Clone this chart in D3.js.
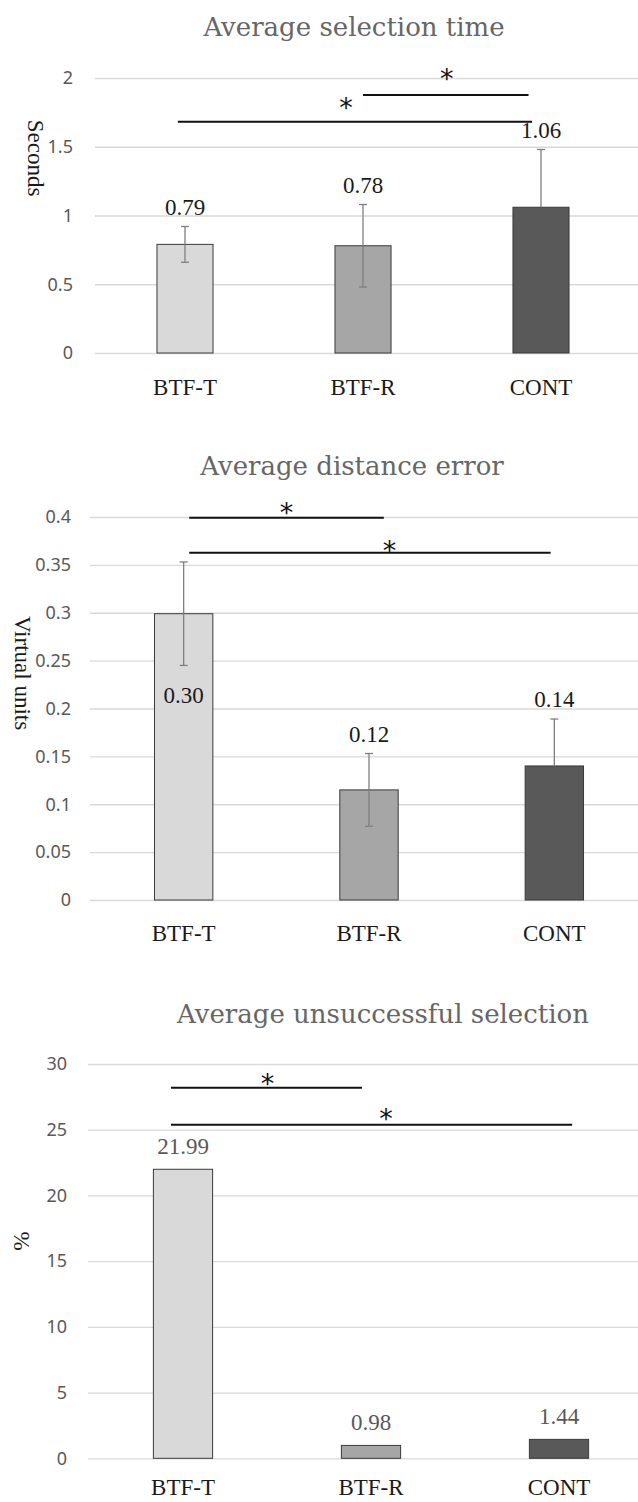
<!DOCTYPE html>
<html>
<head>
<meta charset="utf-8">
<script src="https://cdn.jsdelivr.net/npm/d3@7"></script>
<style>
  body { margin: 0; background: #fff; }
  svg { display: block; }
</style>
</head>
<body>
<div id="chart"></div>
<script>
(function() {

  const categories = ['BTF-T', 'BTF-R', 'CONT'];

  // Average selection time (seconds)
  const timeMeans = [0.79, 0.78, 1.06];
  const timeErrUp = [0.13, 0.30, 0.42];
  const timeErrDown = [0.13, 0.30, 0];
  const timeLabels = ['0.79', '0.78', '1.06'];
  const timeTicks = [0, 0.5, 1, 1.5, 2];
  // significance bars: [from index, to index, value]
  const timeSig = [[1.0, 1.93, 1.876], [-0.04, 1.95, 1.682]];
  const timeStars = [[1.47, 2.036], [0.905, 1.825]];

  // Average distance error (virtual units)
  const distMeans = [0.299, 0.115, 0.14];
  const distErrUp = [0.054, 0.038, 0.049];
  const distErrDown = [0.054, 0.038, 0];
  const distLabels = ['0.30', '0.12', '0.14'];
  const distInside = [true, false, false];
  const distTicks = [0, 0.05, 0.1, 0.15, 0.2, 0.25, 0.3, 0.35, 0.4];
  const distSig = [[0.03, 1.08, 0.3993], [0.03, 1.98, 0.3627]];
  const distStars = [[0.555, 0.4104], [1.11, 0.371]];

  // Average unsuccessful selection (%)
  const failMeans = [21.99, 0.98, 1.44];
  const failLabels = ['21.99', '0.98', '1.44'];
  const failTicks = [0, 5, 10, 15, 20, 25, 30];
  const failSig = [[-0.064, 0.952, 28.2], [-0.064, 2.07, 25.37]];
  const failStars = [[0.45, 28.94], [1.08, 26.28]];

  const barFills = ['#d9d9d9', '#a6a6a6', '#595959'];
  const width = 638, height = 1502;

  const svg = d3.select('#chart').append('svg')
    .attr('width', width)
    .attr('height', height);

  const panels = [
    {
      title: 'Average selection time', titleX: 354, titleY: 36,
      yLabel: 'Seconds', yLabelX: 36, yLabelY: 158,
      y0: 353, y1: 78, domain: [0, 2], ticks: timeTicks, tickX: 73, gridX: 95,
      x0: 96, x1: 630, catY: 395,
      means: timeMeans, errUp: timeErrUp, errDown: timeErrDown, labels: timeLabels,
      inside: [false, false, false], labelColor: '#1a1a1a', sig: timeSig, stars: timeStars
    },
    {
      title: 'Average distance error', titleX: 352, titleY: 475,
      yLabel: 'Virtual units', yLabelX: 23, yLabelY: 673,
      y0: 900, y1: 517, domain: [0, 0.4], ticks: distTicks, tickX: 71, gridX: 90,
      x0: 91, x1: 647, catY: 941,
      means: distMeans, errUp: distErrUp, errDown: distErrDown, labels: distLabels,
      inside: distInside, labelColor: '#1a1a1a', sig: distSig, stars: distStars
    },
    {
      title: 'Average unsuccessful selection', titleX: 383, titleY: 1023,
      yLabel: '%', yLabelX: 22, yLabelY: 1241,
      y0: 1458.3, y1: 1064, domain: [0, 30], ticks: failTicks, tickX: 67, gridX: 88,
      x0: 89, x1: 653, catY: 1495,
      means: failMeans, errUp: null, errDown: null, labels: failLabels,
      inside: [false, false, false], labelColor: '#595959', sig: failSig, stars: failStars
    }
  ];

  panels.forEach(p => {
    const g = svg.append('g');

    const y = d3.scaleLinear().domain(p.domain).range([p.y0, p.y1]);
    const x = d3.scaleBand().domain(categories).range([p.x0, p.x1])
      .paddingInner(0.685).paddingOuter(0.3425);
    const center = c => x(c) + x.bandwidth() / 2;
    // fractional category index -> pixel, for the significance markers
    const xi = d3.scaleLinear().domain([0, 1]).range([center(categories[0]), center(categories[1])]);

    // title
    g.append('text')
      .attr('x', p.titleX)
      .attr('y', p.titleY)
      .attr('text-anchor', 'middle')
      .attr('font-family', 'DejaVu Serif')
      .attr('font-size', 26)
      .attr('fill', '#666')
      .text(p.title);

    // y axis label
    g.append('text')
      .attr('transform', `translate(${p.yLabelX}, ${p.yLabelY}) rotate(90)`)
      .attr('text-anchor', 'middle')
      .attr('dy', '0.35em')
      .attr('font-family', 'Liberation Serif')
      .attr('font-size', 23)
      .attr('fill', '#1a1a1a')
      .text(p.yLabel);

    // gridlines + tick labels
    const yAxis = g.append('g')
      .attr('transform', `translate(${p.gridX}, 0)`)
      .call(d3.axisLeft(y).tickValues(p.ticks).tickSize(-(width - p.gridX)).tickPadding(p.gridX - p.tickX)
        .tickFormat(d3.format('')));
    yAxis.select('.domain').remove();
    yAxis.selectAll('.tick line').attr('stroke', '#d9d9d9').attr('stroke-width', 1.3);
    yAxis.selectAll('.tick text')
      .attr('font-family', 'Noto Sans')
      .attr('font-size', 18)
      .attr('fill', '#595959');

    // bars
    g.selectAll('.bar')
      .data(categories)
      .enter().append('rect')
        .attr('class', 'bar')
        .attr('x', d => x(d))
        .attr('y', (d, i) => y(p.means[i]))
        .attr('width', x.bandwidth())
        .attr('height', (d, i) => p.y0 - y(p.means[i]))
        .attr('fill', (d, i) => barFills[i])
        .attr('stroke', '#3a3a3a')
        .attr('stroke-width', 1);

    // error bars (whisker + cap, drawn per direction when non-zero)
    if (p.errUp) {
      const eb = g.selectAll('.err')
        .data(categories)
        .enter().append('g')
          .attr('class', 'err')
          .attr('stroke', '#7f7f7f')
          .attr('stroke-width', 1.3);
      [[p.errUp, 1], [p.errDown, -1]].forEach(([errs, s]) => {
        const part = eb.filter((d, i) => errs[i] > 0);
        part.append('line')
          .attr('x1', d => center(d)).attr('x2', d => center(d))
          .attr('y1', d => y(p.means[categories.indexOf(d)]))
          .attr('y2', d => { const i = categories.indexOf(d); return y(p.means[i] + s * errs[i]); });
        part.append('line')
          .attr('x1', d => center(d) - 4).attr('x2', d => center(d) + 4)
          .attr('y1', d => { const i = categories.indexOf(d); return y(p.means[i] + s * errs[i]); })
          .attr('y2', d => { const i = categories.indexOf(d); return y(p.means[i] + s * errs[i]); });
      });
    }

    // value labels
    g.selectAll('.val')
      .data(categories)
      .enter().append('text')
        .attr('class', 'val')
        .attr('x', d => center(d))
        .attr('y', (d, i) => {
          if (p.inside[i]) return y(p.means[i] - p.errDown[i]) + 38;
          const e = p.errUp ? p.errUp[i] : 0;
          return y(p.means[i] + e) - (p.errUp ? 12 : 15);
        })
        .attr('text-anchor', 'middle')
        .attr('font-family', 'Liberation Serif')
        .attr('font-size', 23)
        .attr('fill', p.labelColor)
        .text((d, i) => p.labels[i]);

    // category labels
    g.selectAll('.cat')
      .data(categories)
      .enter().append('text')
        .attr('class', 'cat')
        .attr('x', d => center(d))
        .attr('y', p.catY)
        .attr('text-anchor', 'middle')
        .attr('font-family', 'Liberation Serif')
        .attr('font-size', 23)
        .attr('fill', '#1a1a1a')
        .text(d => d);

    // significance lines and stars
    g.selectAll('.sig')
      .data(p.sig)
      .enter().append('line')
        .attr('class', 'sig')
        .attr('x1', d => xi(d[0]))
        .attr('x2', d => xi(d[1]))
        .attr('y1', d => y(d[2]))
        .attr('y2', d => y(d[2]))
        .attr('stroke', '#111')
        .attr('stroke-width', 2);
    g.selectAll('.star')
      .data(p.stars)
      .enter().append('text')
        .attr('class', 'star')
        .attr('x', d => xi(d[0]))
        .attr('y', d => y(d[1]))
        .attr('dy', '0.56em')
        .attr('text-anchor', 'middle')
        .attr('font-family', 'DejaVu Sans')
        .attr('font-size', 27)
        .attr('fill', '#111')
        .text('*');
  });
}());
</script>
</body>
</html>
